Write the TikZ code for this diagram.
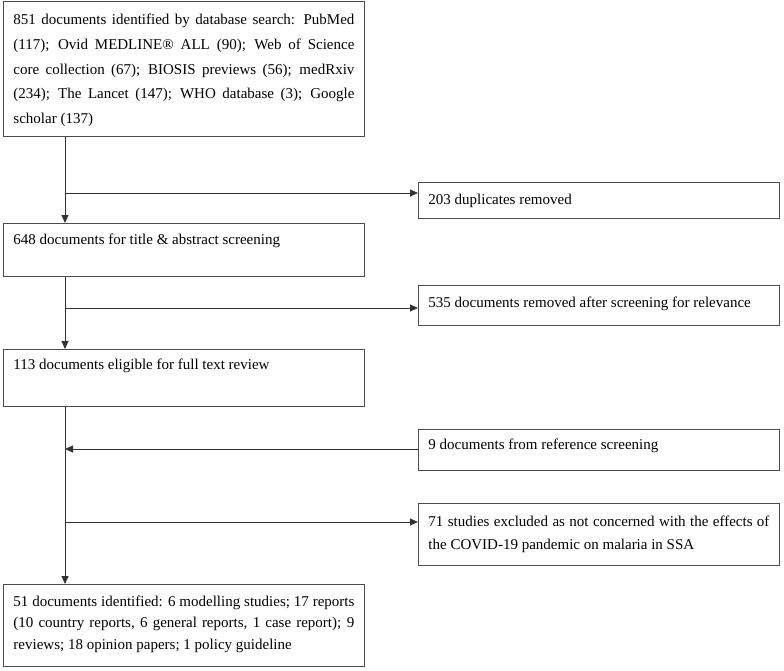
\documentclass[tikz,border=0pt]{standalone}
\usepackage{fontspec}
\setmainfont{Liberation Serif}
\usetikzlibrary{arrows.meta, calc}

\tikzset{
    box/.style={draw=black!70, line width=0.9pt, anchor=north west, text width=341pt, align=justify, inner xsep=10pt, inner ysep=0pt},
    flow/.style={draw=black!80, line width=0.9pt, -{Triangle[length=8pt, width=7pt]}},
}

\begin{document}
\begin{tikzpicture}[x=1pt, y=-1pt]

                \coordinate (A) at (0, 0);
                \useasboundingbox (A) rectangle (784, 670);

                % search results
                \node[box, text height=23pt, text depth=112pt, font=\fontsize{15}{24.8}\selectfont] (search) at ($ (A) + (3, 1) $) {851 documents identified by database search: PubMed\linebreak (117); Ovid MEDLINE® ALL (90); Web of Science\linebreak core collection (67); BIOSIS previews (56); medRxiv\linebreak (234); The Lancet (147); WHO database (3); Google\linebreak scholar (137)};

                % duplicates
                \node[box, text height=22pt, text depth=14pt, font=\fontsize{15}{23}\selectfont] (dupl) at ($ (A) + (418, 182) $) {203 duplicates removed};

                % title and abstract screening
                \node[box, text height=21pt, text depth=32pt, font=\fontsize{15}{23}\selectfont] (screen) at ($ (A) + (3, 223) $) {648 documents for title \& abstract screening};

                % not relevant
                \node[box, text height=22pt, text depth=18pt, font=\fontsize{15}{23}\selectfont] (irrel) at ($ (A) + (418, 285) $) {535 documents removed after screening for relevance};

                % full text review
                \node[box, text height=20pt, text depth=37pt, font=\fontsize{15}{23}\selectfont] (fulltext) at ($ (A) + (3, 349) $) {113 documents eligible for full text review};

                % reference screening
                \node[box, text height=20pt, text depth=21pt, font=\fontsize{15}{23}\selectfont] (refs) at ($ (A) + (418, 429) $) {9 documents from reference screening};

                % excluded studies
                \node[box, text height=23pt, text depth=39pt, font=\fontsize{15}{23}\selectfont] (excl) at ($ (A) + (418, 503) $) {71 studies excluded as not concerned with the effects of\linebreak the COVID-19 pandemic on malaria in SSA};

                % included documents
                \node[box, text height=22pt, text depth=60pt, font=\fontsize{15}{21.5}\selectfont] (final) at ($ (A) + (3, 584) $) {51 documents identified: 6 modelling studies; 17 reports\linebreak (10 country reports, 6 general reports, 1 case report); 9\linebreak reviews; 18 opinion papers; 1 policy guideline};

                % branch points on the main line
                \coordinate (sp1) at ($ (A) + (65, 193) $);
                \coordinate (sp2) at ($ (A) + (65, 308) $);
                \coordinate (sp3) at ($ (A) + (65, 449) $);
                \coordinate (sp4) at ($ (A) + (65, 522) $);

                % main line
                \draw[flow] (search.south -| sp1) -- (screen.north -| sp1);
                \draw[flow] (screen.south -| sp2) -- (fulltext.north -| sp2);
                \draw[flow] (fulltext.south -| sp3) -- (final.north -| sp3);

                % side arrows
                \draw[flow] (sp1) -- (dupl.west |- sp1);
                \draw[flow] (sp2) -- (irrel.west |- sp2);
                \draw[flow] (refs.west |- sp3) -- (sp3);
                \draw[flow] (sp4) -- (excl.west |- sp4);

\end{tikzpicture}
\end{document}
